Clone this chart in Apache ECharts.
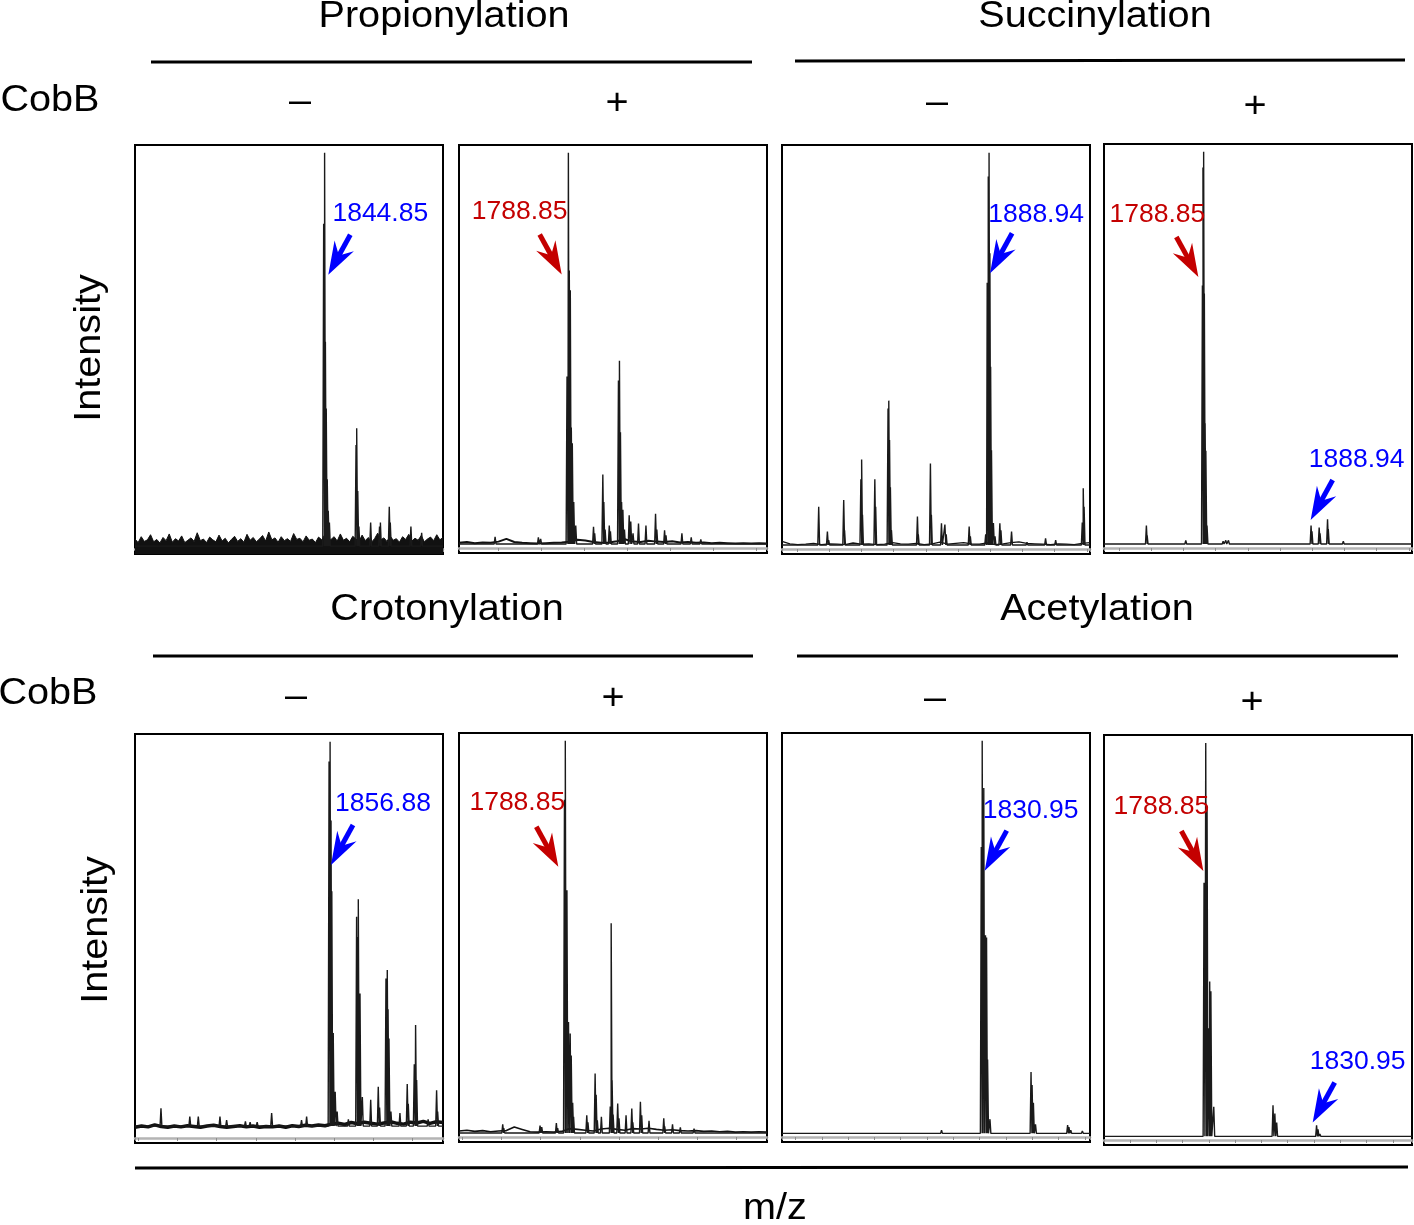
<!DOCTYPE html>
<html><head><meta charset="utf-8">
<script src="https://cdn.jsdelivr.net/npm/echarts@6/dist/echarts.min.js"></script>
<style>html,body{margin:0;padding:0;background:#fff}#c{width:1414px;height:1225px}</style>
</head><body><div id="c"></div>
<script>
// ---------------- DATA ----------------
const modifications = ['Propionylation', 'Succinylation', 'Crotonylation', 'Acetylation'];
const cobbStates = ['\u2013', '+'];
const yLabel = 'Intensity';
const xLabel = 'm/z';

// peaks: [m/z, relative intensity %]
const propMinusPeaks = [[1844.2,82],[1844.85,100],[1845.4,52],[1846.0,35],[1846.7,17],[1847.4,9],[1848.2,6],
  [1866.8,25.7],[1867.25,30],[1868.0,14],[1868.8,5],[1877.0,6],[1883.2,5],[1883.8,6],[1890.0,10],[1890.7,6],
  [1905.1,5],[1912.6,3.4]];
const propPlusPeaks = [[1737.7,2.1],[1767.9,2],[1769.5,1.6],
  [1787.9,43],[1788.85,100],[1789.5,70],[1790.2,65],[1790.9,30],[1791.6,26],[1792.6,11],[1794.0,5],
  [1806.4,4.7],[1807.2,3],[1812.9,18],[1813.6,11],[1814.5,4],[1817.4,5],[1818.2,3.5],
  [1823.8,42],[1824.5,47],[1825.2,28.8],[1826.0,11],[1826.9,9],[1828.0,4],
  [1831.3,7.6],[1832.4,6],[1834.0,3],[1837.8,5.5],[1843.0,5],[1849.7,8],[1850.6,4],[1856.0,3.8],[1857.0,2.5],
  [1868.1,3],[1874.6,2],[1881.3,1.5]];
const succMinusPeaks = [[1730.2,10],[1738.3,3.7],[1739.5,1.5],[1753.5,11.7],[1754.3,4],
  [1769.5,17],[1770.2,22],[1771.0,8],[1782.5,17],[1783.3,10],
  [1794.8,35],[1795.5,37],[1796.2,27],[1797.0,15],[1798.0,4],[1822.2,7.5],[1823.0,3],
  [1834.3,21],[1835.2,8],[1844.6,5.8],[1847.8,5.5],[1849.0,3],[1870.4,5],[1871.5,2.5],
  [1885.8,3],[1887.2,67],[1888.2,94],[1888.94,100],[1889.7,74.5],[1890.4,45.6],[1891.2,24.4],[1893.0,5.9],[1894.5,2.5],
  [1899.0,5.8],[1900.0,4],[1909.9,3.7],[1924.3,1],[1941.6,2],[1951.0,1.5],
  [1975.8,6],[1976.7,14.7],[1977.5,10]];
const succPlusPeaks = [[1712.0,0.8],[1735.5,5],[1736.2,2.5],[1745.0,0.8],[1772.2,1.2],
  [1787.7,66],[1788.2,96],[1788.85,100],[1789.5,64],[1790.2,31],[1790.9,24],[1792.0,5],
  [1807.0,1],[1809.5,1.2],[1812.0,1.2],
  [1888.94,5],[1889.8,3.5],[1896.5,4.5],[1897.3,3],[1904.3,6.6],[1905.0,4],[1919.0,1],[1937.5,0.8],[1950.0,0.5]];
const crotMinusPeaks = [[1727.3,6.8],[1749.4,4.7],[1755.9,4.7],[1772.5,4.7],[1777.6,3.8],[1792.0,3.5],
  [1795.6,3.3],[1801.0,3.3],[1812.1,5.6],[1835.0,3.8],[1838.9,4.7],
  [1856.1,95],[1856.88,100],[1857.6,80],[1858.2,62],[1859.3,26],[1860.8,11],[1862.3,6],[1870.9,4],
  [1877.2,55.5],[1878.0,50.4],[1878.5,60],[1879.2,32],[1879.8,36],[1881.6,9.7],[1888.0,9],
  [1893.8,12.3],[1894.8,7],[1899.7,39.8],[1900.7,42],[1901.3,32],[1902.0,24.6],[1903.5,6],
  [1910.4,5.6],[1916.0,13],[1916.8,8],[1921.4,18],[1922.4,28],[1923.2,14],[1932.0,4],[1938.5,11.4],[1939.3,6]];
const crotPlusPeaks = [[1740.9,2.5],[1741.7,1.5],[1769.5,2.2],[1770.8,1.8],[1782.0,2.8],[1783.0,1.5],
  [1788.2,85],[1788.85,100],[1790.1,62],[1791.3,28.5],[1792.6,25.6],[1793.4,20],[1794.5,8],[1795.2,4.4],
  [1805.3,4.8],[1806.2,3],[1811.7,15.4],[1812.5,10],[1813.4,3.5],[1816.5,4.4],
  [1823.3,7],[1824.0,53.6],[1824.7,13.7],[1825.5,5],[1829.0,7.8],[1830.0,4],[1835.4,4.8],[1839.8,6.5],[1840.6,3],
  [1846.4,8.2],[1847.4,4.8],[1853.0,3.4],[1864.3,4],[1865.0,2],[1871.0,2.5],[1877.0,1.7],[1887.5,1.4]];
const acetMinusPeaks = [[1815.5,1],[1816.0,0.6],
  [1830.6,73],[1830.95,100],[1831.55,88],[1832.2,50.6],[1832.6,50],[1833.0,19],[1833.9,3.8],
  [1849.5,15.8],[1849.9,12.5],[1850.4,8],[1851.2,2.5],[1863.4,2.3],[1863.9,1.8],[1864.6,1],[1869.0,0.8]];
const acetPlusPeaks = [[1769.5,0.5],
  [1788.2,64.5],[1788.85,100],[1789.35,84],[1790.0,27.6],[1790.35,39.5],[1790.8,37],[1791.9,7.7],
  [1814.4,8.1],[1815.1,6],[1815.8,3.7],[1830.95,3],[1831.5,2],[1832.2,0.8]];

// baseline noise, sampled evenly across each window (relative intensity %)
const propMinusNoise = [1.8,0.9,2.4,1.2,1.6,2.9,1.1,1.7,0.8,2.2,1.4,3.1,1.0,1.9,1.3,2.6,0.9,1.5,2.1,1.2,3.4,1.4,1.8,0.9,
  2.3,1.6,1.1,2.8,1.3,2.0,0.8,1.7,2.5,1.2,1.9,1.0,3.0,1.5,2.2,1.1,1.8,2.7,1.3,3.6,1.6,2.1,1.0,2.4,1.4,1.9,
  1.2,3.2,1.7,2.0,1.1,2.6,1.5,1.8,0.9,2.3,1.6,2.9,1.2,1.7,2.4,1.3,3.1,1.5,2.0,1.1,2.5,1.8,1.2,2.8,1.4,2.2,
  1.0,1.9,3.3,1.6,2.1,1.2,2.6,1.5,1.9,1.0,2.4,1.7,3.0,1.3,2.0,1.5,2.7,1.1,1.8,2.3,1.4,2.9,1.6,2.2];
const propPlusNoise = [0.6,0.8,0.5,0.7,0.6,0.9,1.6,0.8,0.6,0.5,0.4,0.5,0.6,0.7,0.9,1.4,1.2,0.8,0.6,0.7,1.0,1.5,0.9,0.8,
  1.1,0.9,0.8,1.0,0.7,0.8,0.6,0.7,0.5,0.6,0.5,0.4,0.5,0.4,0.5,0.4];
const succMinusNoise = [1.2,0.6,0.4,0.5,0.7,0.4,0.6,0.5,0.4,0.8,0.5,0.6,0.4,0.5,0.9,0.6,0.5,0.7,0.4,0.6,1.0,0.5,0.7,
  0.9,0.6,0.5,0.8,0.4,0.6,0.9,1.1,0.7,0.6,0.5,0.4,0.6,0.5,0.4,0.7,0.9];
const crotMinusNoise = [2.0,2.3,2.1,2.6,2.2,2.0,2.3,2.1,2.4,2.2,2.0,2.3,2.5,2.2,2.0,2.2,2.4,2.1,2.3,2.0,2.2,2.1,2.3,2.0,
  2.4,2.2,2.5,2.3,2.6,2.4,2.8,3.0,2.7,3.2,2.9,3.3,3.0,2.8,3.1,3.4,3.0,2.8,3.3,3.1,3.5,3.0,3.4,3.2];
const crotPlusNoise = [0.8,1.0,0.7,0.9,0.6,0.8,0.9,1.8,1.2,0.6,0.5,0.6,0.5,0.7,1.4,1.2,1.0,0.8,1.3,1.5,1.2,1.0,1.4,1.3,
  1.5,1.2,1.0,1.1,0.9,0.8,0.9,0.7,0.8,0.6,0.7,0.5,0.6,0.5,0.6,0.5];

// baseline level of each trace (relative intensity %)
const baseLevels = [0, 0.3, 0.3, 0.3, 2.3, 0.3, 0.2, 0.2];

// m/z window of each panel
const mzWindows = [[1712.5,1927.5],[1712.5,1927.5],[1696,1983],[1696,1983],
  [1707.4,1943.4],[1707.4,1943.4],[1754.9,1871.9],[1750.2,1867.2]];

// annotations: [panel, m/z, arrow-tip intensity, label, kind]
const annotations = [
  [0, 1844.85, 69, '1844.85', 'mod'],
  [1, 1788.85, 69, '1788.85', 'base'],
  [2, 1888.94, 69.4, '1888.94', 'mod'],
  [3, 1788.85, 68.2, '1788.85', 'base'],
  [3, 1888.94, 6.4, '1888.94', 'mod'],
  [4, 1856.88, 68.7, '1856.88', 'mod'],
  [5, 1788.85, 68, '1788.85', 'base'],
  [6, 1830.95, 67, '1830.95', 'mod'],
  [7, 1788.85, 67.5, '1788.85', 'base'],
  [7, 1830.95, 3.7, '1830.95', 'mod']
];

// ---------------- LAYOUT / STYLE ----------------
// per-annotation placement: [arrow tip x shift px, label dx px, label dy px]
const annotPlacement = [[3.7,52,-61],[-6.7,-42,-63],[1,46,-59],[-5.3,-41,-62],[-0.4,46,-60],
  [0.9,52,-61],[-7,-41,-64],[2.5,46,-60],[-2.4,-42,-64],[-3.9,45,-61]];
const peakSets = [propMinusPeaks, propPlusPeaks, succMinusPeaks, succPlusPeaks,
  crotMinusPeaks, crotPlusPeaks, acetMinusPeaks, acetPlusPeaks];
const noiseSets = [propMinusNoise, propPlusNoise, succMinusNoise, null, crotMinusNoise, crotPlusNoise, null, null];
const noiseStyle = [{area:true,w:1},{w:2},{w:1.3},null,{w:3.5},{w:1.6},null,null];
const boxes = [[135,145,308,409],[459,145,308,408],[782,145,308,409],[1104,144,308,409],
  [135,734,308,409],[459,733,308,409],[782,733,308,409],[1104,735,308,410]];
const FONT = '"Liberation Sans", Arial, sans-serif';
const colors = {mod:'#0000ff', base:'#c40000'};

const chart = echarts.init(document.getElementById('c'), null, {renderer:'canvas'});
const grids = [], xAxes = [], yAxes = [], series = [];
boxes.forEach((b, i) => {
  grids.push({left:b[0], top:b[1], width:b[2], height:b[3], show:true, borderColor:'#000', borderWidth:2, backgroundColor:'rgba(0,0,0,0)'});
  const [mn, mx] = mzWindows[i];
  xAxes.push({gridIndex:i, type:'value', min:mn, max:mx, offset:-5, splitNumber:8,
    axisLine:{onZero:false, lineStyle:{color:'#b4b4b4', width:2.5}},
    axisTick:{show:true, length:3, lineStyle:{color:'#8c8c8c', width:1}},
    axisLabel:{show:false}, splitLine:{show:false}});
  yAxes.push({gridIndex:i, type:'value', min:-2, max:102, show:false});
  const halfW = 0.9 * (mx - mn) / b[2];
  const base = baseLevels[i];
  const noise = noiseSets[i];
  if (noise) {
    const st = noiseStyle[i];
    const step = (mx - mn) / (noise.length - 1);
    series.push({type:'line', xAxisIndex:i, yAxisIndex:i, symbol:'none', silent:true, z:2,
      data: noise.map((v, k) => [mn + k * step, v]),
      lineStyle:{color:'#111', width:st.w},
      areaStyle: st.area ? {color:'#111', opacity:1, origin:'start'} : undefined});
  }
  const pts = [[mn, base]];
  peakSets[i].slice().sort((a, c) => a[0] - c[0]).forEach(([mz, h]) => {
    pts.push([mz - halfW, base], [mz, h], [mz + halfW, base]);
  });
  pts.push([mx, base]);
  series.push({type:'line', xAxisIndex:i, yAxisIndex:i, symbol:'none', silent:true, z:3, data:pts,
    lineStyle:{color:'#1a1a1a', width:1.4}});
});

chart.setOption({animation:false, backgroundColor:'#fff', grid:grids, xAxis:xAxes, yAxis:yAxes, series:series});

// ---------------- TEXT & DECORATION ----------------
const g = [];
const BIG = 36, SX = 1.1;
function txt(s, x, y, size, opts) {
  g.push(Object.assign({type:'text', x:x, y:y, silent:true, scaleX:SX,
    style:{text:s, font:size + 'px ' + FONT, fill:'#000', align:'center', verticalAlign:'middle'}}, opts || {}));
}
function hline(x1, y1, x2, y2, w) {
  g.push({type:'line', silent:true, shape:{x1:x1, y1:y1, x2:x2, y2:y2}, style:{stroke:'#000', lineWidth:w}});
}
// group titles
txt(modifications[0], 444, 17, BIG);
txt(modifications[1], 1095, 17, BIG);
txt(modifications[2], 447, 610, BIG);
txt(modifications[3], 1097, 610, BIG);
hline(151, 62, 752, 62, 3); hline(795, 61, 1405, 60, 3);
hline(153, 656, 753, 656, 3); hline(797, 656, 1398, 656, 3);
hline(135, 1168, 1408, 1167, 3);
txt('CobB', 50, 101, BIG); txt('CobB', 48, 694, BIG);
txt(cobbStates[0], 300, 102, BIG); txt(cobbStates[1], 617, 104, BIG);
txt(cobbStates[0], 937, 103, BIG); txt(cobbStates[1], 1255, 107, BIG);
txt(cobbStates[0], 296, 697, BIG); txt(cobbStates[1], 613, 699, BIG);
txt(cobbStates[0], 935, 699, BIG); txt(cobbStates[1], 1252, 703, BIG);
txt(yLabel, 90, 348, BIG, {rotation:Math.PI/2});
txt(yLabel, 97, 930, BIG, {rotation:Math.PI/2});
txt(xLabel, 775, 1209, BIG);

// arrows + peak labels
annotations.forEach(([p, mz, yv, label, kind], k) => {
  const px = chart.convertToPixel({gridIndex:p}, [mz, yv]);
  const isMod = kind === 'mod';
  const col = colors[kind];
  const pl = annotPlacement[k];
  const T = [px[0] + pl[0], px[1]];
  const v = isMod ? [22, -40] : [-22, -40];
  const len = Math.hypot(v[0], v[1]);
  const u = [v[0] / len, v[1] / len];
  const n = [-u[1], u[0]];
  const Lh = 33, Wh = 11, notch = 22;
  g.push({type:'polygon', silent:true, z:10, shape:{points:[
    T,
    [T[0] + u[0]*Lh + n[0]*Wh, T[1] + u[1]*Lh + n[1]*Wh],
    [T[0] + u[0]*notch, T[1] + u[1]*notch],
    [T[0] + u[0]*Lh - n[0]*Wh, T[1] + u[1]*Lh - n[1]*Wh]
  ]}, style:{fill:col}});
  g.push({type:'line', silent:true, z:10, shape:{x1:T[0] + u[0]*18, y1:T[1] + u[1]*18, x2:T[0] + v[0], y2:T[1] + v[1]},
    style:{stroke:col, lineWidth:5}});
  g.push({type:'text', silent:true, z:10, x:T[0] + pl[1], y:T[1] + pl[2],
    style:{text:label, font:'26.5px ' + FONT, fill:col, align:'center', verticalAlign:'middle'}});
});
chart.setOption({graphic:g});
</script></body></html>
